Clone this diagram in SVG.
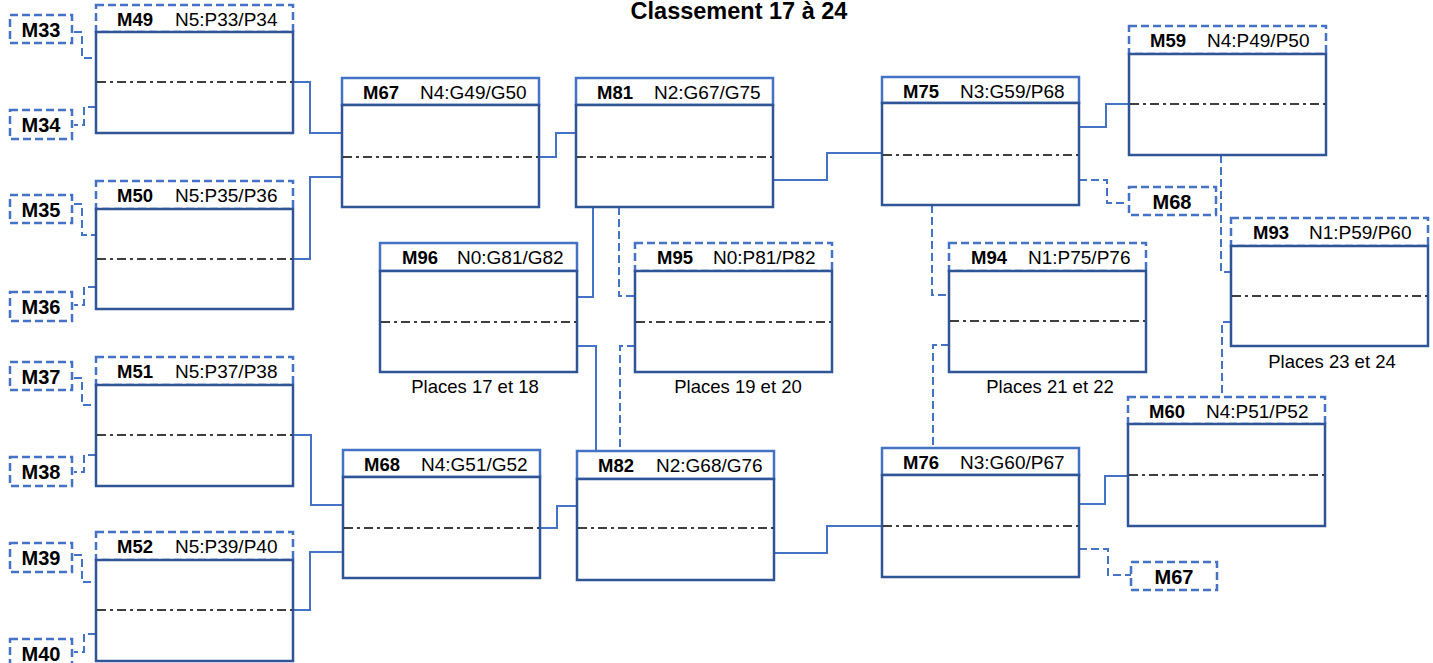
<svg xmlns="http://www.w3.org/2000/svg" width="1433" height="663" viewBox="0 0 1433 663">
<style>
.bg{fill:#ffffff}
.hs{fill:#ffffff;stroke:#4472C4;stroke-width:2.5}
.hd{fill:#ffffff;stroke:#4472C4;stroke-width:2.5;stroke-dasharray:8 4}
.bd{fill:#ffffff;stroke:#2F5597;stroke-width:2.5}
.dd{stroke:#000000;stroke-width:1.6;stroke-dasharray:9 4 3 4;fill:none}
.cs{fill:none;stroke:#4472C4;stroke-width:2}
.cd{fill:none;stroke:#4472C4;stroke-width:2;stroke-dasharray:8 4}
.tb{font-family:"Liberation Sans",Arial,sans-serif;font-weight:bold;font-size:18.5px;fill:#000}
.tr{font-family:"Liberation Sans",Arial,sans-serif;font-size:19px;fill:#000}
.tl{font-family:"Liberation Sans",Arial,sans-serif;font-weight:bold;font-size:20px;fill:#000;text-anchor:middle}
.tp{font-family:"Liberation Sans",Arial,sans-serif;font-size:18.5px;fill:#000;text-anchor:middle}
.tt{font-family:"Liberation Sans",Arial,sans-serif;font-weight:bold;font-size:23.5px;fill:#000;text-anchor:middle}
</style>
<rect class="bg" x="0" y="0" width="1433" height="663"/>
<text class="tt" x="739" y="19">Classement 17 à 24</text>

<g id="connectors">
<path class="cs" d="M293,82 H310 V133 H342"/>
<path class="cs" d="M293,259 H310 V177 H342"/>
<path class="cs" d="M539,157 H556 V133 H576"/>
<path class="cs" d="M773,180 H827 V153 H882"/>
<path class="cs" d="M1079,127 H1106 V104 H1129"/>
<path class="cs" d="M593,207 V297 H577"/>
<path class="cs" d="M577,346 H596 V451"/>
<path class="cs" d="M293,435 H311 V505 H343"/>
<path class="cs" d="M293,610 H310 V552 H343"/>
<path class="cs" d="M540,528 H557 V506 H577"/>
<path class="cs" d="M774,553 H827 V526 H882"/>
<path class="cs" d="M1079,504 H1105 V476 H1128"/>
<path class="cd" d="M74,32 H82 V58 H96"/>
<path class="cd" d="M96,107 H84 V125 H74"/>
<path class="cd" d="M74,204 H82 V235 H96"/>
<path class="cd" d="M96,287 H84 V305 H74"/>
<path class="cd" d="M74,378 H82 V405 H96"/>
<path class="cd" d="M96,455 H84 V472 H74"/>
<path class="cd" d="M74,555 H82 V582 H96"/>
<path class="cd" d="M96,634 H84 V652 H74"/>
<path class="cd" d="M1079,180 H1107 V203 H1128"/>
<path class="cd" d="M1221,155 V272 H1231"/>
<path class="cd" d="M1231,322 H1222 V397"/>
<path class="cd" d="M619,207 V296 H635"/>
<path class="cd" d="M635,346 H620 V451"/>
<path class="cd" d="M932,205 V295 H949"/>
<path class="cd" d="M949,345 H933 V448"/>
<path class="cd" d="M1079,549 H1108 V575 H1131"/>
</g>

<g id="M33"><rect class="hd" x="10" y="15" width="62" height="28"/><text class="tl" x="41" y="37">M33</text></g>
<g id="M34"><rect class="hd" x="10" y="110" width="62" height="29"/><text class="tl" x="41" y="132">M34</text></g>
<g id="M35"><rect class="hd" x="10" y="195" width="62" height="28"/><text class="tl" x="41" y="217">M35</text></g>
<g id="M36"><rect class="hd" x="10" y="292" width="62" height="29"/><text class="tl" x="41" y="314">M36</text></g>
<g id="M37"><rect class="hd" x="10" y="362" width="62" height="28"/><text class="tl" x="41" y="384">M37</text></g>
<g id="M38"><rect class="hd" x="10" y="457" width="62" height="29"/><text class="tl" x="41" y="479">M38</text></g>
<g id="M39"><rect class="hd" x="10" y="543" width="62" height="29"/><text class="tl" x="41" y="565">M39</text></g>
<g id="M40"><rect class="hd" x="10" y="639" width="62" height="30"/><text class="tl" x="41" y="661">M40</text></g>
<g id="M68box"><rect class="hd" x="1129" y="187" width="87" height="28"/><text class="tl" x="1172" y="209">M68</text></g>
<g id="M67box"><rect class="hd" x="1131" y="562" width="86" height="28"/><text class="tl" x="1174" y="584">M67</text></g>

<g id="M49"><rect class="hd" x="96" y="5" width="197" height="27"/><rect class="bd" x="96" y="32" width="197" height="101"/><line class="dd" x1="97" y1="82" x2="292" y2="82"/><text class="tb" x="117" y="26">M49</text><text class="tr" x="175" y="26">N5:P33/P34</text></g>
<g id="M50"><rect class="hd" x="96" y="181" width="197" height="28"/><rect class="bd" x="96" y="209" width="197" height="100"/><line class="dd" x1="97" y1="259" x2="292" y2="259"/><text class="tb" x="117" y="202">M50</text><text class="tr" x="175" y="202">N5:P35/P36</text></g>
<g id="M51"><rect class="hd" x="96" y="357" width="197" height="28"/><rect class="bd" x="96" y="385" width="197" height="101"/><line class="dd" x1="97" y1="435" x2="292" y2="435"/><text class="tb" x="117" y="378">M51</text><text class="tr" x="175" y="378">N5:P37/P38</text></g>
<g id="M52"><rect class="hd" x="96" y="532" width="197" height="28"/><rect class="bd" x="96" y="560" width="197" height="101"/><line class="dd" x1="97" y1="610" x2="292" y2="610"/><text class="tb" x="117" y="553">M52</text><text class="tr" x="175" y="553">N5:P39/P40</text></g>
<g id="M67"><rect class="hs" x="342" y="78" width="197" height="27"/><rect class="bd" x="342" y="105" width="197" height="102"/><line class="dd" x1="343" y1="157" x2="538" y2="157"/><text class="tb" x="363" y="99">M67</text><text class="tr" x="420" y="99">N4:G49/G50</text></g>
<g id="M81"><rect class="hs" x="576" y="78" width="197" height="27"/><rect class="bd" x="576" y="105" width="197" height="102"/><line class="dd" x1="577" y1="157" x2="772" y2="157"/><text class="tb" x="597" y="99">M81</text><text class="tr" x="654" y="99">N2:G67/G75</text></g>
<g id="M75"><rect class="hs" x="882" y="77" width="197" height="26"/><rect class="bd" x="882" y="103" width="197" height="102"/><line class="dd" x1="883" y1="155" x2="1078" y2="155"/><text class="tb" x="903" y="98">M75</text><text class="tr" x="960" y="98">N3:G59/P68</text></g>
<g id="M59"><rect class="hd" x="1129" y="26" width="197" height="28"/><rect class="bd" x="1129" y="54" width="197" height="101"/><line class="dd" x1="1130" y1="104" x2="1325" y2="104"/><text class="tb" x="1150" y="47">M59</text><text class="tr" x="1207" y="47">N4:P49/P50</text></g>
<g id="M93"><rect class="hd" x="1231" y="218" width="197" height="28"/><rect class="bd" x="1231" y="246" width="197" height="100"/><line class="dd" x1="1232" y1="296" x2="1427" y2="296"/><text class="tb" x="1253" y="239">M93</text><text class="tr" x="1309" y="239">N1:P59/P60</text><text class="tp" x="1332" y="368">Places 23 et 24</text></g>
<g id="M96"><rect class="hs" x="380" y="243" width="197" height="28"/><rect class="bd" x="380" y="271" width="197" height="101"/><line class="dd" x1="381" y1="322" x2="576" y2="322"/><text class="tb" x="402" y="264">M96</text><text class="tr" x="457" y="264">N0:G81/G82</text><text class="tp" x="475" y="393">Places 17 et 18</text></g>
<g id="M95"><rect class="hd" x="635" y="243" width="197" height="28"/><rect class="bd" x="635" y="271" width="197" height="101"/><line class="dd" x1="636" y1="322" x2="831" y2="322"/><text class="tb" x="657" y="264">M95</text><text class="tr" x="713" y="264">N0:P81/P82</text><text class="tp" x="738" y="393">Places 19 et 20</text></g>
<g id="M94"><rect class="hd" x="949" y="243" width="197" height="28"/><rect class="bd" x="949" y="271" width="197" height="101"/><line class="dd" x1="950" y1="321" x2="1145" y2="321"/><text class="tb" x="971" y="264">M94</text><text class="tr" x="1028" y="264">N1:P75/P76</text><text class="tp" x="1050" y="393">Places 21 et 22</text></g>
<g id="M68"><rect class="hs" x="343" y="450" width="197" height="27"/><rect class="bd" x="343" y="477" width="197" height="101"/><line class="dd" x1="344" y1="528" x2="539" y2="528"/><text class="tb" x="364" y="471">M68</text><text class="tr" x="421" y="471">N4:G51/G52</text></g>
<g id="M82"><rect class="hs" x="577" y="451" width="197" height="28"/><rect class="bd" x="577" y="479" width="197" height="101"/><line class="dd" x1="578" y1="528" x2="773" y2="528"/><text class="tb" x="598" y="472">M82</text><text class="tr" x="656" y="472">N2:G68/G76</text></g>
<g id="M76"><rect class="hs" x="882" y="448" width="197" height="27"/><rect class="bd" x="882" y="475" width="197" height="102"/><line class="dd" x1="883" y1="526" x2="1078" y2="526"/><text class="tb" x="903" y="469">M76</text><text class="tr" x="960" y="469">N3:G60/P67</text></g>
<g id="M60"><rect class="hd" x="1128" y="397" width="197" height="27"/><rect class="bd" x="1128" y="424" width="197" height="102"/><line class="dd" x1="1129" y1="475" x2="1324" y2="475"/><text class="tb" x="1149" y="418">M60</text><text class="tr" x="1206" y="418">N4:P51/P52</text></g>
</svg>
